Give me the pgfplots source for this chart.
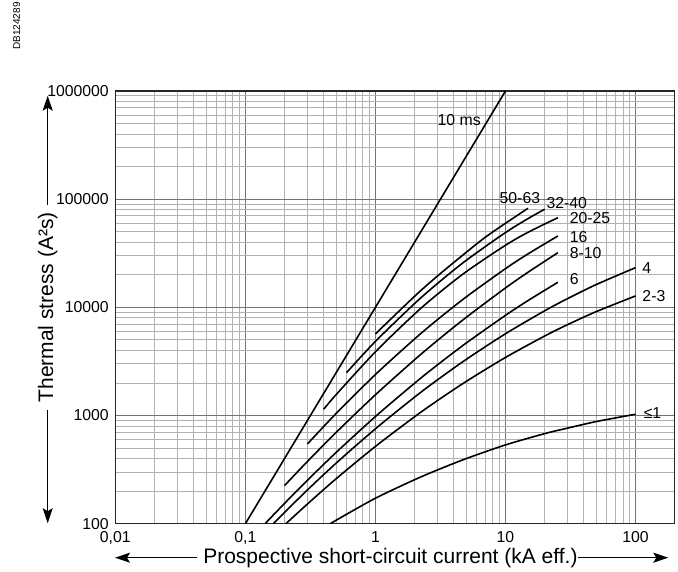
\documentclass[border=0pt]{standalone}
\usepackage{fontspec}
\setmainfont{Liberation Sans}
\usepackage{pgfplots}
\pgfplotsset{compat=1.18}
\usetikzlibrary{arrows.meta}

\begin{document}
\begin{tikzpicture}
\begin{axis}[
  at={(0pt,0pt)}, anchor=south west,
  scale only axis, width=559.4pt, height=432.7pt,
  xmode=log, ymode=log,
  xmin=0.01, xmax=200, ymin=100, ymax=1000000,
  xtick={0.01,0.1,1,10,100},
  xticklabels={{0,01},{0,1},1,10,100},
  ytick={100,1000,10000,100000,1000000},
  yticklabels={100,1000,10000,100000,1000000},
  grid=both,
  major grid style={line width=1pt, black!55},
  minor grid style={line width=0.9pt, black!30},
  major tick length=0pt, minor tick length=0pt,
  axis line style={line width=1.3pt, black!85},
  tick label style={font=\fontsize{15.8}{17}\selectfont},
  xticklabel style={yshift=-6.5pt, inner sep=1pt},
  yticklabel style={xshift=-3pt},
  label style={font=\fontsize{21}{24}\selectfont},
  xlabel={Prospective short-circuit current (kA eff.)},
  ylabel={Thermal stress (A²s)},
  xlabel style={at={(axis description cs:0.4918,-0.079)}, anchor=center, inner sep=0pt},
  ylabel style={at={(axis description cs:-0.1209,0.5)}, anchor=center},
  every axis plot/.append style={line width=1.6pt, black},
]
% 10 ms
\addplot[no marks] coordinates {(0.1,100) (10,1000000)};
% 50-63
\addplot[smooth, no marks] coordinates {(1,5680) (2,12650) (3,19490) (5,32320) (7,44480) (10,59900) (14.9,82400)};
% 32-40
\addplot[smooth, no marks] coordinates {(0.6,2492) (1,4845) (2,10840) (3,16620) (5,27250) (10,49130) (15,66440) (20,80700)};
% 20-25
\addplot[smooth, no marks] coordinates {(0.4,1143) (0.5,1566) (1,3885) (2,8680) (3,13230) (5,21400) (10,37500) (15,49610) (25.3,67450)};
% 16
\addplot[smooth, no marks] coordinates {(0.3,546) (0.5,1048) (1,2393) (2,5103) (3,7700) (5,12510) (10,22790) (15,31360) (25.3,45700)};
% 8-10
\addplot[smooth, no marks] coordinates {(0.2,225) (0.3,376) (0.5,700) (1,1555) (2,3278) (3,4946) (5,8098) (10,15110) (15,21220) (25.3,32030)};
% 6
\addplot[smooth, no marks] coordinates {(0.1417,100) (0.2,154) (0.3,252) (0.5,457) (1,979) (2,1989) (3,2940) (5,4688) (10,8435) (15,11610) (25.3,17060)};
% 4
\addplot[smooth, no marks] coordinates {(0.164,100) (0.2,127) (0.3,205) (0.5,364) (1,754) (2,1479) (3,2137) (5,3308) (10,5700) (20,9290) (30,12040) (50,16270) (100,23280)};
% 2-3
\addplot[smooth, no marks] coordinates {(0.205,100) (0.3,152) (0.5,261) (1,518) (2,974) (3,1375) (5,2070) (10,3443) (20,5430) (30,6918) (50,9145) (100,12750)};
% <=1
\addplot[smooth, no marks] coordinates {(0.45,100) (0.535,113) (1,172) (2,255) (3,314) (5,400) (10,535) (20,680) (30,765) (50,880) (100,1028)};

\begin{scope}[every node/.style={inner sep=0pt, font=\fontsize{15.8}{17}\selectfont}]
\node[anchor=east] at (axis cs:6.47,539600) {10 ms};
\node[anchor=west] at (axis cs:8.99,101900) {50-63};
\node[anchor=west] at (axis cs:20.6,92900) {32-40};
\node[anchor=west] at (axis cs:31.1,67450) {20-25};
\node[anchor=west] at (axis cs:31.1,45020) {16};
\node[anchor=west] at (axis cs:31.1,31620) {8-10};
\node[anchor=west] at (axis cs:31.1,18180) {6};
\node[anchor=west] at (axis cs:112.6,23280) {4};
\node[anchor=west] at (axis cs:112.6,12750) {2-3};
\node[anchor=west] at (axis cs:115.2,1050) {≤1};
\end{scope}
\end{axis}

\begin{scope}[line width=1.3pt, -{Stealth[length=15pt,width=10pt,inset=3pt]}]
\draw (-67.6pt,318.7pt) -- (-67.6pt,428pt);
\draw (-67.6pt,113.7pt) -- (-67.6pt,0.5pt);
\draw (81.4pt,-34pt) -- (-0.3pt,-34pt);
\draw (462.7pt,-34pt) -- (553pt,-34pt);
\end{scope}
\node[rotate=90, inner sep=0pt, font=\fontsize{10}{12}\selectfont] at (-98.6pt,497.7pt) {DB124289};

\pgfresetboundingbox
\useasboundingbox (-115.3pt,-47.3pt) rectangle (562.7pt,523.7pt);
\end{tikzpicture}
\end{document}
